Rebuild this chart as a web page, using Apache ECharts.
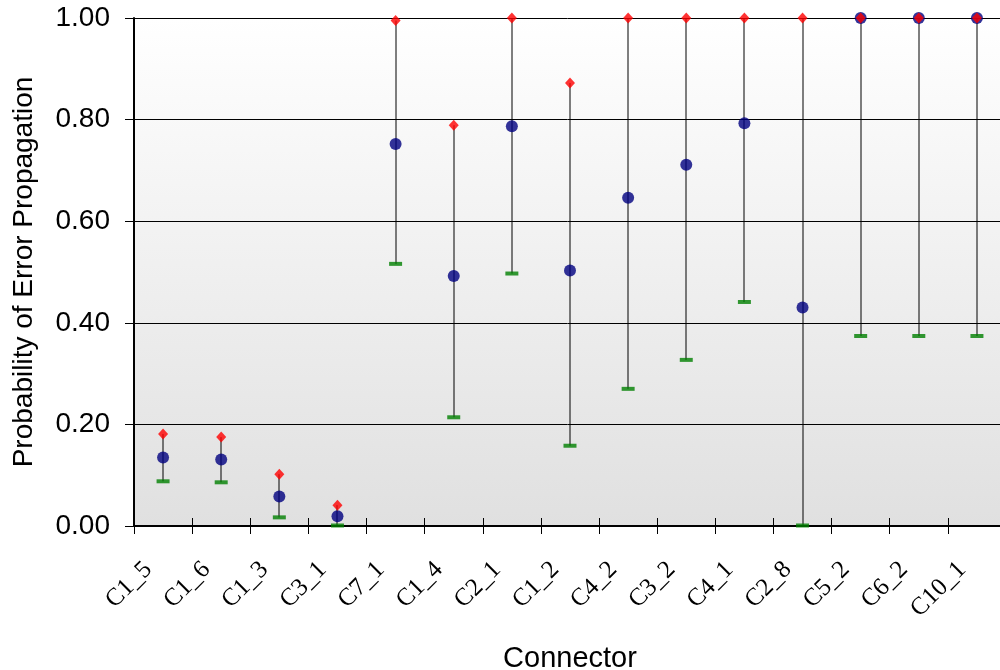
<!DOCTYPE html>
<html>
<head>
<meta charset="utf-8">
<script src="https://cdn.jsdelivr.net/npm/echarts@6/dist/echarts.min.js"></script>
<style>html,body{margin:0;padding:0;background:#fff;}#c{width:1000px;height:670px;}</style>
</head>
<body>
<div id="c"></div>
<script>
const categories = ['C1_5','C1_6','C1_3','C3_1','C7_1','C1_4','C2_1','C1_2','C4_2','C3_2','C4_1','C2_8','C5_2','C6_2','C10_1'];
const highValues = [0.181,0.175,0.102,0.041,0.995,0.789,1.0,0.872,1.0,1.0,1.0,1.0,1.0,1.0,1.0];
const meanValues = [0.135,0.131,0.058,0.019,0.752,0.492,0.787,0.503,0.646,0.711,0.793,0.430,1.0,1.0,1.0];
const lowValues  = [0.088,0.086,0.017,0.001,0.516,0.214,0.497,0.158,0.270,0.327,0.441,0.001,0.374,0.374,0.374];
const yTicks = [0, 0.2, 0.4, 0.6, 0.8, 1.0];

const chart = echarts.init(document.getElementById('c'));
const rangeData = categories.map((c, i) => [i, lowValues[i], highValues[i]]);

chart.setOption({
  animation: false,
  grid: {
    left: 134, top: 18, width: 872, height: 508,
    containLabel: false, outerBoundsMode: 'none',
    show: true, borderWidth: 0,
    backgroundColor: new echarts.graphic.LinearGradient(0, 0, 0, 1, [
      {offset: 0, color: '#ffffff'}, {offset: 1, color: '#e0e0e0'}
    ])
  },
  xAxis: [{
    type: 'category', data: categories, boundaryGap: true,
    name: 'Connector', nameLocation: 'middle', nameGap: 118,
    nameTextStyle: {fontFamily: 'Liberation Sans', fontSize: 29, color: '#000'},
    axisLine: {show: true, lineStyle: {color: '#000', width: 2}},
    axisTick: {show: true, length: 8, lineStyle: {color: '#000'}},
    axisLabel: {rotate: 45, fontFamily: 'Liberation Serif', fontSize: 25, color: '#000',
      margin: 25, interval: 0, padding: [0, 21, 0, 0]}
  }, {
    type: 'category', data: categories, boundaryGap: true, position: 'bottom',
    axisLine: {show: false},
    axisTick: {show: true, inside: true, length: 8, lineStyle: {color: '#000'}},
    axisLabel: {show: false}
  }],
  yAxis: {
    type: 'value', min: 0, max: 1, interval: 0.2,
    name: 'Probability of Error Propagation', nameLocation: 'middle', nameGap: 96,
    nameTextStyle: {fontFamily: 'Liberation Sans', fontSize: 28, color: '#000'},
    axisLine: {show: true, lineStyle: {color: '#000', width: 2}},
    axisTick: {show: true, length: 9, lineStyle: {color: '#000'}},
    axisLabel: {fontFamily: 'Liberation Sans', fontSize: 28, color: '#000', margin: 24,
      formatter: v => v.toFixed(2)},
    splitLine: {show: true, lineStyle: {color: '#000', width: 1}}
  },
  series: [{
    type: 'custom', data: rangeData, encode: {x: 0, y: [1, 2]}, clip: false, z: 2,
    renderItem: (params, api) => {
      const p1 = api.coord([api.value(0), api.value(1)]);
      const p2 = api.coord([api.value(0), api.value(2)]);
      const x = Math.round(p1[0]);
      return {type: 'line', shape: {x1: x, y1: p1[1], x2: x, y2: p2[1]},
        style: {stroke: '#000', lineWidth: 1}};
    }
  }, {
    type: 'scatter', data: lowValues, symbol: 'rect', symbolSize: [13, 4], clip: false, z: 3,
    itemStyle: {color: '#008000'}
  }, {
    type: 'scatter', data: meanValues, symbol: 'circle', symbolSize: 12, clip: false, z: 4,
    itemStyle: {color: '#000080'}
  }, {
    type: 'scatter', data: highValues, symbol: 'diamond', symbolSize: [10, 11], clip: false, z: 5,
    itemStyle: {color: '#ff0000'}
  }]
});
</script>
</body>
</html>
